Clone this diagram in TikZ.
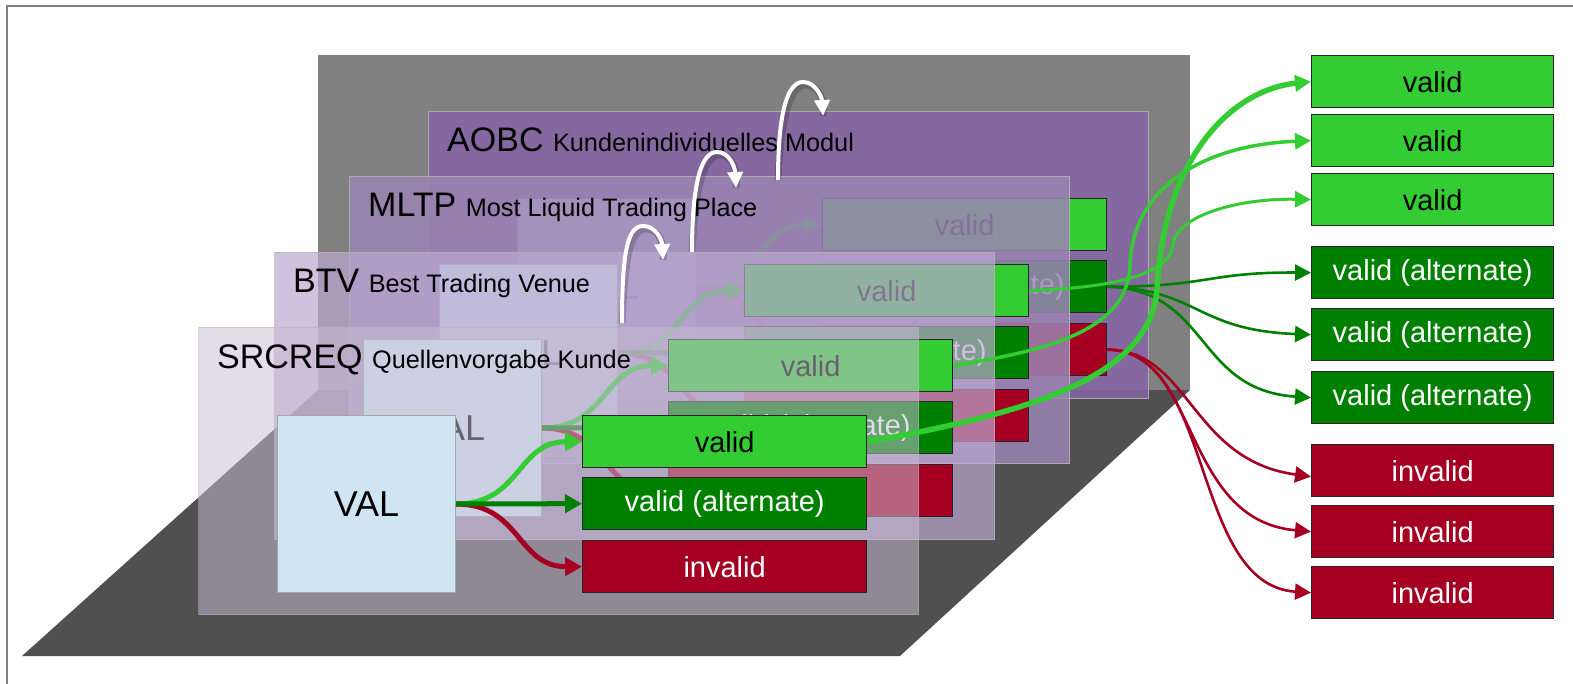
\documentclass[tikz,border=0pt]{standalone}
\usepackage{fontspec}
\setmainfont{Liberation Sans}
\usetikzlibrary{arrows.meta}
\definecolor{wallc}{HTML}{808080}
\definecolor{floorc}{HTML}{505050}
\definecolor{lgreen}{HTML}{33CC33}
\definecolor{dgreen}{HTML}{008000}
\definecolor{dred}{HTML}{A50021}
\definecolor{valblue}{HTML}{CFE5F3}
\definecolor{pA}{RGB}{133,100,165}
\definecolor{pM}{RGB}{155,133,180}
\definecolor{pB}{RGB}{187,168,209}
\definecolor{pS}{RGB}{201,189,213}
\tikzset{
  res/.style={draw=black!85, line width=1.3pt, minimum width=284pt, minimum height=52pt, inner sep=0pt, anchor=north west, font=\fontsize{29}{33}\selectfont},
  outbox/.style={res, minimum width=242pt},
  validbox/.style={fill=lgreen, text=black},
  altbox/.style={fill=dgreen, text=white},
  invbox/.style={fill=dred, text=white},
  valbox/.style={draw=gray!70, line width=1pt, fill=valblue, minimum width=178pt, minimum height=177pt, anchor=north west, inner sep=0pt, font=\fontsize{36}{40}\selectfont},
  panel/.style={draw=gray!60, line width=1pt, minimum width=720pt, minimum height=287pt, anchor=north west, inner sep=0pt},
  flow/.style={line width=5pt, -{Triangle[length=17pt,width=18pt]}},
  conn/.style={line width=3pt, -{Triangle[length=16pt,width=16pt]}},
  upar/.style={white, line width=4pt, -{Triangle[length=16pt,width=15pt]}},
  upshadow/.style={black, opacity=0.18, line width=7pt, xshift=3pt, yshift=-3pt},
}
\newcommand\mylayer[9]{%
  \node[panel, fill=#6, fill opacity=#7, draw opacity=#7] (#1P) at (#2,#3) {};
  \node[anchor=base west, inner sep=0pt] (#1T) at (#2+19,#3+41) {\fontsize{34}{40}\selectfont #8 \fontsize{25.3}{29}\selectfont #9};
  \node[valbox] (#1V) at (#4-305,#5) {VAL};
  \node[res, validbox] (#1v) at (#4,#5) {valid};
  \node[res, altbox] (#1a) at (#4,#5+62) {valid (alternate)};
  \node[res, invbox] (#1i) at (#4,#5+125) {invalid};
  \draw[flow, lgreen] (#1V.east) .. controls +(65,0) and +(-65,0) .. (#1v.west);
  \draw[flow, dred] (#1V.east) .. controls +(65,0) and +(-65,0) .. (#1i.west);
  \draw[flow, dgreen] (#1V.east) -- (#1a.west);
}
\begin{document}
\begin{tikzpicture}[x=1pt,y=-1pt]
\useasboundingbox (0,0) rectangle (1573,684);
\draw[gray, line width=1.5pt] (7,684) -- (7,6) -- (1573,6);
% back wall and floor
\fill[wallc] (318,55) rectangle (1190,390);
\fill[floorc] (22,656) -- (900,656) -- (1190,390) -- (318,390) -- cycle;
% layers, back to front
\mylayer{A}{428}{111}{822}{198}{pA}{0.85}{AOBC}{Kundenindividuelles Modul}
\mylayer{M}{349}{176}{744}{264}{pM}{0.85}{MLTP}{Most Liquid Trading Place}
\mylayer{B}{274}{252}{668}{339}{pB}{0.7}{BTV}{Best Trading Venue}
\mylayer{S}{198}{327}{582}{415}{pS}{0.52}{SRCREQ}{Quellenvorgabe Kunde}
% white step arrows
\coordinate (wa1) at (622,323); \coordinate (wa2) at (663,260);
\coordinate (wb1) at (692,252); \coordinate (wb2) at (736,188);
\coordinate (wc1) at (778,180); \coordinate (wc2) at (823,116);
\draw[upshadow] (wa1) .. controls (622,250) and (628,226) .. (643,226) .. controls (656,226) and (662,240) .. (wa2);
\draw[upshadow] (wb1) .. controls (692,180) and (702,152) .. (717,152) .. controls (730,152) and (735,168) .. (wb2);
\draw[upshadow] (wc1) .. controls (778,110) and (788,82) .. (803,82) .. controls (816,82) and (822,98) .. (wc2);
\draw[upar] (wa1) .. controls (622,250) and (628,226) .. (643,226) .. controls (656,226) and (662,240) .. (wa2);
\draw[upar] (wb1) .. controls (692,180) and (702,152) .. (717,152) .. controls (730,152) and (735,168) .. (wb2);
\draw[upar] (wc1) .. controls (778,110) and (788,82) .. (803,82) .. controls (816,82) and (822,98) .. (wc2);
% output boxes
\node[outbox, validbox] (o1) at (1311,55) {valid};
\node[outbox, validbox] (o2) at (1311,114) {valid};
\node[outbox, validbox] (o3) at (1311,173) {valid};
\node[outbox, altbox] (o4) at (1311,246) {valid (alternate)};
\node[outbox, altbox] (o5) at (1311,308) {valid (alternate)};
\node[outbox, altbox] (o6) at (1311,371) {valid (alternate)};
\node[outbox, invbox] (o7) at (1311,444) {invalid};
\node[outbox, invbox] (o8) at (1311,505) {invalid};
\node[outbox, invbox] (o9) at (1311,566) {invalid};
% connectors to outputs
\draw[conn, dgreen, line width=2.6pt] (Aa.east) .. controls (1208,287) and (1208,272) .. (o4.west);
\draw[conn, dgreen, line width=2.6pt] (Aa.east) .. controls (1200,290) and (1195,330) .. (o5.west);
\draw[conn, dgreen, line width=2.6pt] (Aa.east) .. controls (1210,290) and (1195,390) .. (o6.west);
\draw[conn, dred, line width=2.6pt] (Ai.east) .. controls (1190,350) and (1190,460) .. ([yshift=-6pt]o7.west);
\draw[conn, dred, line width=2.6pt] (Ai.east) .. controls (1200,350) and (1180,520) .. (o8.west);
\draw[conn, dred, line width=2.6pt] (Ai.east) .. controls (1215,350) and (1190,585) .. (o9.west);
\draw[conn, lgreen, line width=3pt] (Mv.east) .. controls (1110,288) and (1170,275) .. (1173,245) .. controls (1176,215) and (1240,198) .. (o3.west);
\draw[conn, lgreen, line width=3.5pt] (Bv.east) .. controls (1050,350) and (1128,330) .. (1130,265) .. controls (1132,190) and (1200,145) .. (o2.west);
\draw[conn, lgreen, line width=5.5pt] (Sv.east) .. controls (1050,410) and (1150,370) .. (1157,290) .. controls (1163,160) and (1230,90) .. (o1.west);
\end{tikzpicture}
\end{document}
